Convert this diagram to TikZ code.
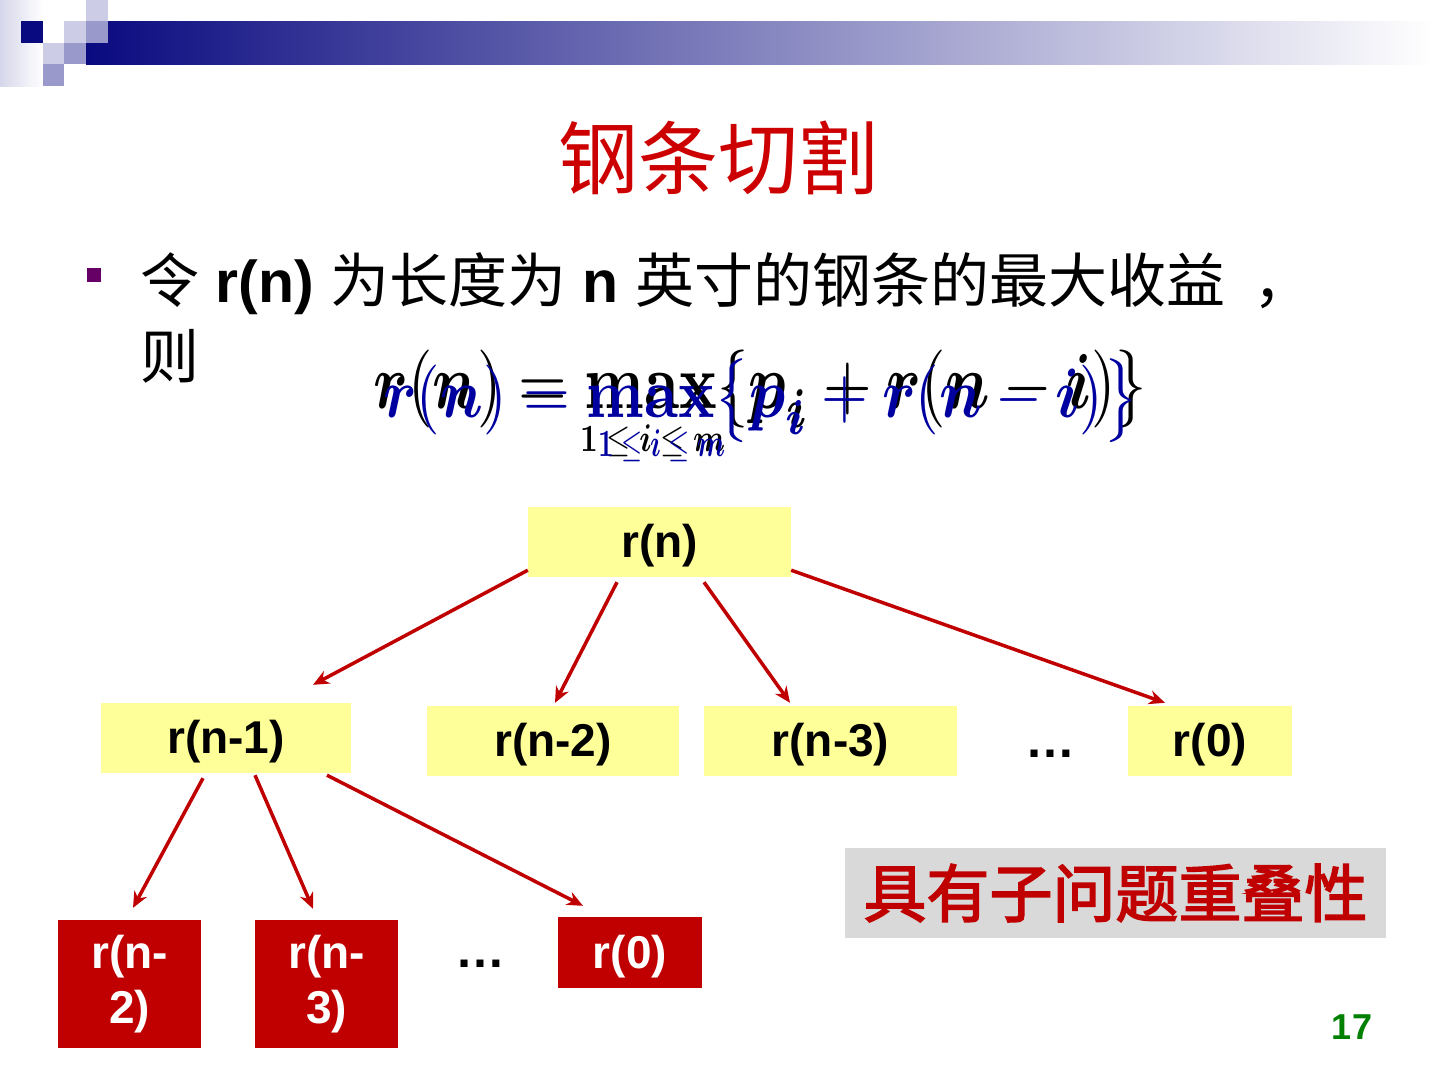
\documentclass[tikz,border=0pt]{standalone}
\usepackage{amsmath}
\usepackage[no-math]{fontspec}
\setmainfont{Liberation Sans}
\newfontfamily\cjk{Noto Sans CJK SC}
\newfontfamily\cjkb[FakeBold=2.5]{Noto Sans CJK SC}
\usetikzlibrary{arrows.meta,calc}
\definecolor{navy}{RGB}{10,10,128}
\definecolor{lav}{RGB}{204,204,230}
\definecolor{lavm}{RGB}{153,153,204}
\definecolor{boxred}{RGB}{192,0,0}
\definecolor{titlered}{RGB}{204,0,0}
\definecolor{ylw}{RGB}{255,255,153}
\definecolor{gry}{RGB}{217,217,217}
\definecolor{eqblue}{RGB}{0,0,160}
\definecolor{pnum}{RGB}{0,128,0}
\definecolor{bul}{RGB}{102,0,102}
\tikzset{
  ybox/.style={draw=none,fill=ylw,minimum height=70pt,inner sep=0pt,text height=38pt,text depth=7pt,font=\fontsize{46}{50}\selectfont\bfseries},
  rbox/.style={draw=none,fill=boxred,text=white,inner sep=0pt,align=center,font=\fontsize{46}{55}\selectfont\bfseries},
  conn/.style={draw=boxred,line width=3.5pt,-{Stealth[length=16pt,width=14pt]}},
  dots/.style={font=\fontsize{50}{54}\selectfont\bfseries,inner sep=0pt,anchor=base}
}
\begin{document}
\begin{tikzpicture}[x=1pt,y=-1pt]
\useasboundingbox (0,0) rectangle (1440,1080);
% header decoration
\shade[left color=lav!80,right color=white] (0,0) rectangle (43,86);
\shade[left color=navy,right color=white] (86,21) rectangle (1432,64);
\fill[navy] (21,21) rectangle (43,43);
\fill[lav] (64,21) rectangle (86,43);
\fill[lav] (86,0) rectangle (108,21);
\fill[lav] (43,43) rectangle (64,64);
\fill[lavm] (86,21) rectangle (108,43);
\fill[lavm] (64,43) rectangle (86,64);
\fill[lavm] (43,64) rectangle (64,86);
% title
\node[anchor=base,text=titlered,inner sep=0pt,font=\fontsize{80}{84}\selectfont\cjk] (title) at (718,188) {钢条切割};
% bullet
\fill[bul] (87,268) rectangle (101,282);
\node[anchor=base west,inner sep=0pt,font=\fontsize{59}{62}\selectfont] (line1) at (140,302)
  {{\cjk 令} \textbf{r(n)} {\cjk 为长度为} \textbf{n} {\cjk 英寸的钢条的最大收益}\hspace{28pt}{\cjk ，}};
\node[anchor=base west,inner sep=0pt,font=\fontsize{59}{62}\selectfont\cjk] (line2) at (140,378) {则};
% formula (two overlapping renderings)
\node[anchor=north west,inner sep=0pt] (eqblack) at (373,350)
  {\resizebox*{774pt}{78pt}{$\boldsymbol{r}(\boldsymbol{n})=\mathbf{max}\{\boldsymbol{p}_{\boldsymbol{i}}+\boldsymbol{r}(\boldsymbol{n}-\boldsymbol{i})\}$}};
\node[anchor=north west,inner sep=0pt] (subblack) at (580,425)
  {\resizebox*{145pt}{32pt}{$\mathbf{1}\le\boldsymbol{i}\le\boldsymbol{m}$}};
\node[anchor=north west,inner sep=0pt,text=eqblue] (eqblue) at (383,358)
  {\resizebox*{755pt}{84pt}{$\boldsymbol{r}(\boldsymbol{n})=\mathbf{max}\bigl\{\boldsymbol{p}_{\boldsymbol{i}}+\boldsymbol{r}(\boldsymbol{n}-\boldsymbol{i})\bigr\}$}};
\node[anchor=north west,inner sep=0pt,text=eqblue] (subblue) at (598,430)
  {\resizebox*{127pt}{32pt}{$\mathbf{1}\le\boldsymbol{i}\le\boldsymbol{m}$}};
% tree nodes
\node[ybox,minimum width=263pt] (rn) at (659.5,542) {r(n)};
\node[ybox,minimum width=250pt] (rn1) at (226,738) {r(n-1)};
\node[ybox,minimum width=252pt] (rn2) at (553,741) {r(n-2)};
\node[ybox,minimum width=253pt] (rn3) at (830.5,741) {r(n-3)};
\node[dots] (d1) at (1050,757) {…};
\node[ybox,minimum width=164pt] (r0) at (1210,741) {r(0)};
\node[rbox,minimum width=143pt,minimum height=128pt,text width=143pt] (b1) at (129.5,984) {r(n-\\2)};
\node[rbox,minimum width=143pt,minimum height=128pt,text width=143pt] (b2) at (326.5,984) {r(n-\\3)};
\node[dots] (d2) at (480,967) {…};
\node[rbox,minimum width=144pt,minimum height=71pt,text height=38pt,text depth=7pt] (b3) at (630,952.5) {r(0)};
% connectors
\draw[conn] ([shift={(0,-7)}]rn.south west) -- ([shift={(87,-18)}]rn1.north);
\draw[conn] ([shift={(-42.5,5)}]rn.south) -- ([shift={(2,-3)}]rn2.north);
\draw[conn] ([shift={(44.5,5)}]rn.south) -- ([shift={(-40.5,-3)}]rn3.north);
\draw[conn] ([shift={(0,-7)}]rn.south east) -- ([shift={(-45,-3)}]r0.north);
\draw[conn] ([shift={(-23,5)}]rn1.south) -- ([shift={(3.5,-12)}]b1.north);
\draw[conn] ([shift={(29,2)}]rn1.south) -- ([shift={(-13.5,-11)}]b2.north);
\draw[conn] ([shift={(101,2)}]rn1.south) -- ([shift={(-47,-11)}]b3.north);
% note box
\node[fill=gry,minimum width=541pt,minimum height=90pt,inner sep=0pt,text=boxred,font=\fontsize{63}{66}\selectfont\cjkb] (note) at (1115.5,893) {具有子问题重叠性};
% page number
\node[text=pnum,inner sep=0pt,font=\fontsize{36}{40}\selectfont\bfseries] (pg) at (1352,1027) {17};
\end{tikzpicture}
\end{document}
